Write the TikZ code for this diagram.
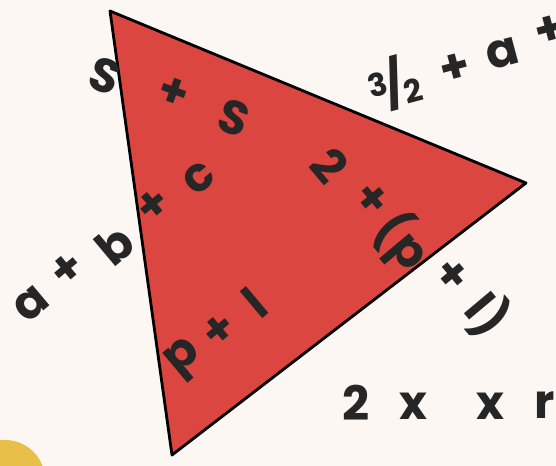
\documentclass[tikz,border=0pt]{standalone}
\usepackage{fontspec}
\setmainfont{Poppins}
\usepackage{tikz}
\usepackage{xcolor}

\definecolor{paper}{HTML}{FCF7F3}
\definecolor{trired}{HTML}{DC4640}
\definecolor{blobyellow}{HTML}{E8BF48}

\tikzset{
    glyph/.style={font=\fontsize{27}{29}\selectfont\bfseries, text=black!85, inner sep=0pt}
}

\begin{document}
\begin{tikzpicture}[x=0.02cm, y=-0.02cm]

    % background
    \fill[paper] (0,0) rectangle (556,466);
    \useasboundingbox (0,0) rectangle (556,466);

    % yellow blob in the corner
    \fill[blobyellow] (5,480) circle (40);

    % triangle
    \coordinate (top) at (110,11);
    \coordinate (tip) at (526,183);
    \coordinate (bot) at (172,455);
    \filldraw[fill=trired, draw=black, line width=1.6pt, line join=round] (top) -- (tip) -- (bot) -- cycle;

    % s + s
    \foreach \x/\y/\lab [count=\i] in {105/76/S,173/93/+,234/118/S}{
        \node[glyph, rotate=-20] (ss\i) at (\x,\y) {\lab};
    }
    % 3/2 + a +
    \foreach \x/\y/\lab [count=\i] in {455/69/+,503/54/a,550/31/+}{
        \node[glyph, rotate=15] (ha\i) at (\x,\y) {\lab};
    }
    \node[glyph, rotate=15] (half) at (394,83)
    {\raisebox{0.35ex}{\fontsize{18}{18}\selectfont 3}\kern-2pt/\kern-2pt\raisebox{-0.25ex}{\fontsize{18}{18}\selectfont 2}};
    % a + b + c
    \foreach \x/\y/\lab [count=\i] in {31/304/a,68/270/+,115/245/b,154/206/+,199/178/c}{
        \node[glyph, rotate=40] (abc\i) at (\x,\y) {\lab};
    }
    % 2 + (p + l)
    \foreach \x/\y/\lab [count=\i] in {330/166/2,371/200/+,402/242/(p,451/276/+,487/315/l)}{
        \node[glyph, rotate=-50] (pl\i) at (\x,\y) {\lab};
    }
    % p + l inside
    \foreach \x/\y/\lab [count=\i] in {185/360/p,220/331/+,255/303/l}{
        \node[glyph, rotate=40] (in\i) at (\x,\y) {\lab};
    }
    % 2 x x r
    \foreach \x/\y/\lab [count=\i] in {356/403/2,413/406/x,490/406/x,545/405/r}{
        \node[glyph] (xr\i) at (\x,\y) {\lab};
    }
\end{tikzpicture}
\end{document}
